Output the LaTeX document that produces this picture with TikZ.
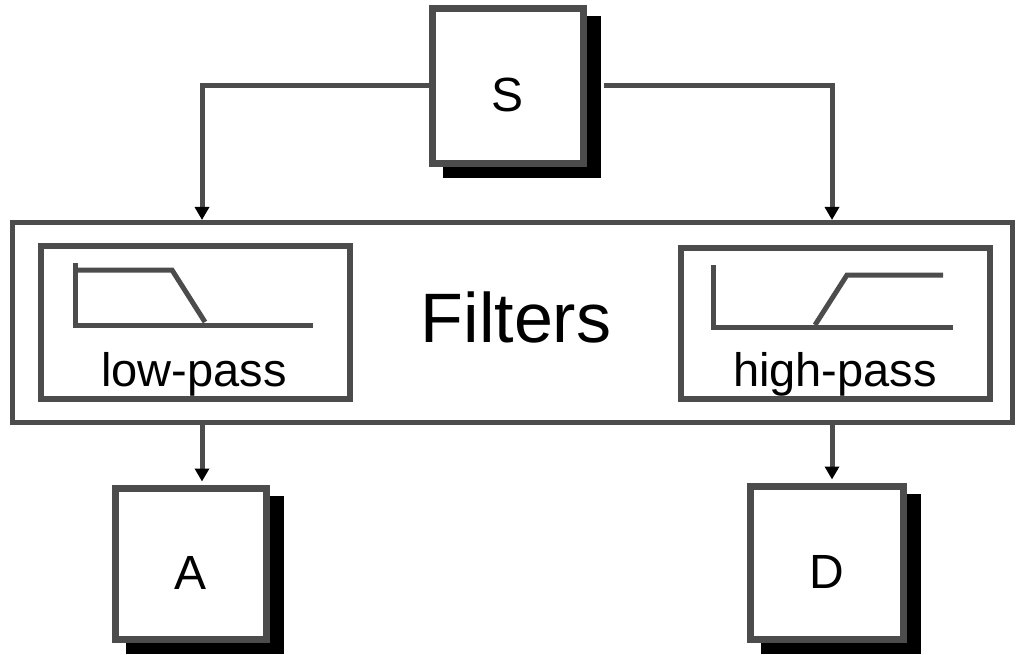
\documentclass[tikz,border=0pt]{standalone}
\usepackage{fontspec}
\setmainfont{Liberation Sans}
\usetikzlibrary{arrows.meta,shadows}
\definecolor{ink}{gray}{0.3}
\begin{document}
\begin{tikzpicture}[x=1pt,y=-1pt,
  blockbox/.style={draw=ink, line width=7pt, fill=white, inner sep=0pt,
    font=\fontsize{48}{48}\selectfont, text height=51pt, text depth=0pt,
    general shadow={shadow xshift=14pt, shadow yshift=-11pt, fill=black, draw=black, line width=7pt, opacity=1}},
  framebox/.style={draw=ink, line width=5pt, inner sep=0pt},
  filterbox/.style={draw=ink, line width=6pt, inner sep=0pt},
  curve/.style={draw=ink, line width=5pt},
  label/.style={font=\fontsize{47}{47}\selectfont, anchor=base, inner sep=0pt},
  conn/.style={draw=ink, line width=5pt, -{Triangle[length=13pt,width=14pt,color=black]}}
]
\useasboundingbox (0,0) rectangle (1017,655);
% filters frame
\node[framebox, minimum width=1000pt, minimum height=200pt] (F) at (512.5,322.5) {};
\node[filterbox, minimum width=309pt, minimum height=153pt] (lp) at (195.5,322.5) {};
\node[filterbox, minimum width=309pt, minimum height=151pt] (hp) at (835.5,323.5) {};
\node[font=\fontsize{70}{70}\selectfont, anchor=base, inner sep=0pt] (ft) at (516,342) {Filters};
\node[label] (lpt) at (194,386) {low-pass};
\node[label] (hpt) at (835,386) {high-pass};
% response curves
\draw[curve] (75,263) -- (75,325) -- (313,325);
\draw[curve] (75,270) -- (172,270) -- (205,322);
\draw[curve] (713,265) -- (713,327) -- (953,327);
\draw[curve] (815,325) -- (847,275) -- (943,275);
% blocks
\node[blockbox, minimum width=151pt, minimum height=155pt] (S) at (508,86) {S};
\node[blockbox, minimum width=151pt, minimum height=151pt] (A) at (191,564) {A};
\node[blockbox, minimum width=153pt, minimum height=153pt] (D) at (827,563) {D};
% connectors
\coordinate (inL) at (202,220);
\coordinate (inR) at (832,220);
\coordinate (sR) at ([xshift=17pt]S.east);
\coordinate (oL) at ([xshift=11pt,yshift=3.5pt]A.north);
\coordinate (oR) at ([xshift=5pt,yshift=3.5pt]D.north);
\draw[conn] (S.west) -| (inL);
\draw[conn] (sR) -| (inR);
\draw[conn] (F.south -| oL) -- (oL);
\draw[conn] (F.south -| oR) -- (oR);
\end{tikzpicture}
\end{document}
